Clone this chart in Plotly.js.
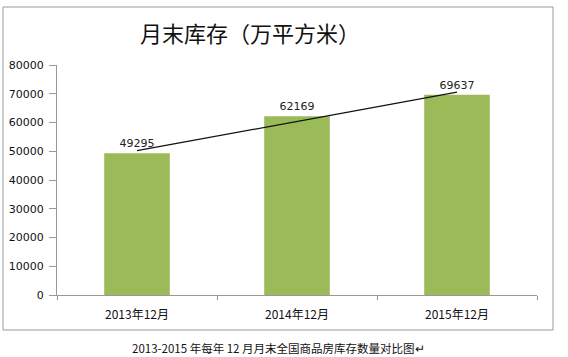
<!DOCTYPE html>
<html><head><meta charset="utf-8">
<script src="https://cdn.plot.ly/plotly-3.0.1.min.js"></script>
<style>html,body{margin:0;padding:0;background:#fff}#c{width:568px;height:357px}</style>
</head><body><div id="c"></div>
<script>
const categories = ["2013年12月", "2014年12月", "2015年12月"];
const values = [49295, 62169, 69637];
const yTicks = [0, 10000, 20000, 30000, 40000, 50000, 60000, 70000, 80000];
const titleText = "月末库存（万平方米）";
const captionText = "2013-2015 年每年 12 月月末全国商品房库存数量对比图↵";

// linear trendline (least squares over category index)
const n = values.length;
const xs = values.map((_, i) => i + 1);
const mx = xs.reduce((a, b) => a + b, 0) / n;
const my = values.reduce((a, b) => a + b, 0) / n;
let num = 0, den = 0;
for (let i = 0; i < n; i++) { num += (xs[i] - mx) * (values[i] - my); den += (xs[i] - mx) ** 2; }
const slope = num / den, icpt = my - slope * mx;
const trend = xs.map(x => icpt + slope * x);

const cjk = '"Noto Sans CJK SC", "Liberation Sans", sans-serif';
const data = [
  {type: 'bar', x: categories, y: values, marker: {color: '#9BBB59'}, width: 0.41,
   text: values.map(String), textposition: 'outside', cliponaxis: false,
   textfont: {family: '"DejaVu Sans", "Liberation Sans", sans-serif', size: 11, color: '#222'},
   hoverinfo: 'none'},
  {type: 'scatter', mode: 'lines', x: categories, y: trend,
   line: {color: '#111', width: 1.2}, hoverinfo: 'none'}
];
const layout = {
  width: 568, height: 357, showlegend: false,
  paper_bgcolor: '#fff', plot_bgcolor: '#fff',
  margin: {l: 57, r: 31, t: 65, b: 62},
  title: {text: titleText, x: 0.44, xanchor: 'center', y: 0.905, yanchor: 'middle',
          font: {family: cjk, size: 22, color: '#111'}},
  xaxis: {type: 'category', showline: true, linecolor: '#999', linewidth: 1,
          ticks: 'outside', tickson: 'boundaries', ticklen: 4, tickcolor: '#999',
          ticklabelstandoff: 9,
          tickfont: {family: cjk, size: 12, color: '#111'}, showgrid: false, zeroline: false},
  yaxis: {range: [0, 80000], tickvals: yTicks, ticktext: yTicks.map(String),
          showline: true, linecolor: '#999', linewidth: 1, ticks: 'outside', ticklen: 7,
          tickcolor: '#999', showgrid: false, zeroline: false, ticklabelstandoff: 3,
          tickfont: {family: '"DejaVu Sans", "Liberation Sans", sans-serif', size: 11, color: '#111'}},
  bargap: 0.59,
  shapes: [
    {type: 'rect', xref: 'paper', yref: 'paper',
     x0: (3 - 57) / 480, x1: (553 - 57) / 480, y0: (295 - 330) / 230, y1: (295 - 7) / 230,
     line: {color: '#999', width: 1}, fillcolor: 'rgba(0,0,0,0)'}
  ],
  annotations: [
    {text: captionText, xref: 'paper', yref: 'paper', x: (278 - 57) / 480, y: (295 - 348) / 230,
     xanchor: 'center', yanchor: 'middle', showarrow: false,
     font: {family: cjk, size: 11.5, color: '#111'}}
  ]
};
Plotly.newPlot('c', data, layout, {staticPlot: true, displayModeBar: false});
</script></body></html>
